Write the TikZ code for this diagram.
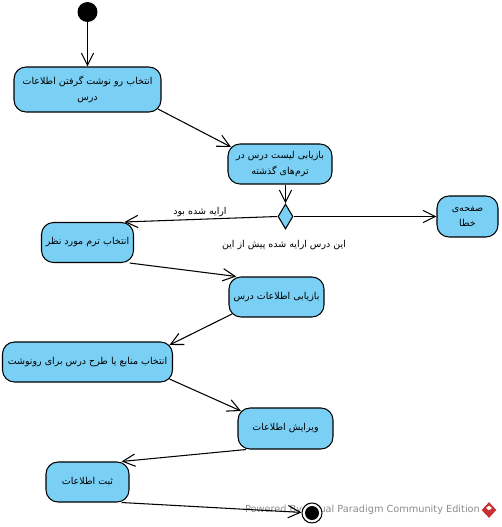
\documentclass[tikz,border=0pt]{standalone}
\usepackage{fontspec}
\usepackage{xcolor}
\usepackage{tikz}
\usetikzlibrary{arrows.meta,calc,shapes.geometric}
\TeXXeTstate=1
\newfontfamily\arabicfont[Script=Arabic]{DejaVu Sans}
\newfontfamily\markfont{DejaVu Sans}
\definecolor{AzulEstado}{RGB}{122,207,245}
\definecolor{GrisMarca}{RGB}{140,140,140}
\definecolor{RojoMarca}{RGB}{200,50,50}
\tikzset{
  actbox/.style={draw,fill=AzulEstado,rounded corners=0.24cm,line width=0.6pt,align=center,
    inner sep=0pt,font=\arabicfont\fontsize{5.4}{8.8}\selectfont},
  flowlabel/.style={inner sep=0pt,font=\arabicfont\fontsize{5.4}{8.8}\selectfont},
  flow/.style={-{Straight Barb[length=7pt,width=7pt]},line width=0.6pt}
}
\begin{document}
\begin{tikzpicture}[x=0.02cm,y=-0.02cm]
  \useasboundingbox (0,0) rectangle (501,527);
  % watermark
  \node[inner sep=0pt,text=GrisMarca,font=\markfont\fontsize{5.55}{8}\selectfont] (wmark) at (362.5,510) {Powered By Visual Paradigm Community Edition};
  \node[diamond,fill=RojoMarca,inner sep=0pt,minimum width=0.3cm,minimum height=0.32cm] (wlogo) at (489,510) {};
  \node[diamond,fill=white,inner sep=0pt,minimum width=0.12cm,minimum height=0.1cm] (wlogoin) at (489,508) {};
  % states
  \node[circle,fill=black,inner sep=0pt,minimum size=0.4cm] (start) at (87.5,12) {};
  \node[actbox,minimum width=2.94cm,minimum height=0.9cm] (actA) at (87.5,89.5) {\beginR انتخاب رو نوشت گرفتن اطلاعات\endR\\\beginR درس\endR};
  \node[actbox,minimum width=2.08cm,minimum height=0.8cm] (actB) at (280,164) {\beginR بازیابی لیست درس در\endR\\\beginR ترم‌های گذشته\endR};
  \node[diamond,draw,fill=AzulEstado,inner sep=0pt,line width=0.6pt,shape aspect=0.6,minimum width=0.3cm,minimum height=0.5cm] (decA) at (285.5,216.5) {};
  \node[actbox,minimum width=1.22cm,minimum height=0.82cm] (actC) at (467.5,216.5) {\beginR صفحه‌ی\endR\\\beginR خطا\endR};
  \node[actbox,minimum width=1.84cm,minimum height=0.8cm] (actD) at (87.5,242.5) {\beginR انتخاب ترم مورد نظر\endR};
  \node[actbox,minimum width=1.9cm,minimum height=0.8cm] (actE) at (276.5,297) {\beginR بازیابی اطلاعات درس\endR};
  \node[actbox,minimum width=3.4cm,minimum height=0.8cm] (actF) at (87.5,362) {\beginR انتخاب منابع یا طرح درس برای رونوشت\endR};
  \node[actbox,minimum width=1.9cm,minimum height=0.82cm] (actG) at (285.5,428.5) {\beginR ویرایش اطلاعات\endR};
  \node[actbox,minimum width=1.66cm,minimum height=0.8cm] (actH) at (87.5,482) {\beginR ثبت اطلاعات\endR};
  \node[circle,draw,fill=white,inner sep=0pt,line width=0.6pt,minimum size=0.4cm] (endS) at (312,513) {};
  \node[circle,fill=black,inner sep=0pt,minimum size=0.28cm] (endIn) at (312,513) {};
  % guards
  \node[flowlabel] (lblYes) at (200,212) {\beginR ارایه شده بود\endR};
  \node[flowlabel] (lblNo) at (284,245) {\beginR این درس ارایه شده پیش از این\endR};
  % flows
  \draw[flow] (start)--(actA);
  \draw[flow] ($(actA.south east)+(-3.5,-3.5)$)--($(actB.north west)+(3.5,3.5)$);
  \draw[flow] (actB.south -| decA.north)--(decA.north);
  \draw[flow] (decA.east)--(actC.west);
  \draw[flow] (decA.west)--(actD.29);
  \draw[flow] (actD.-26)--(actE.153);
  \draw[flow] ($(actE.south west)+(3.5,-3.5)$)--($(actF.north east)+(-3.5,3.5)$);
  \draw[flow] ($(actF.south east)+(-3.5,-3.5)$)--($(actG.north west)+(3.5,3.5)$);
  \draw[flow] (actG.208)--(actH.31);
  \draw[flow] (actH.-31)--(endS);
\end{tikzpicture}
\end{document}
